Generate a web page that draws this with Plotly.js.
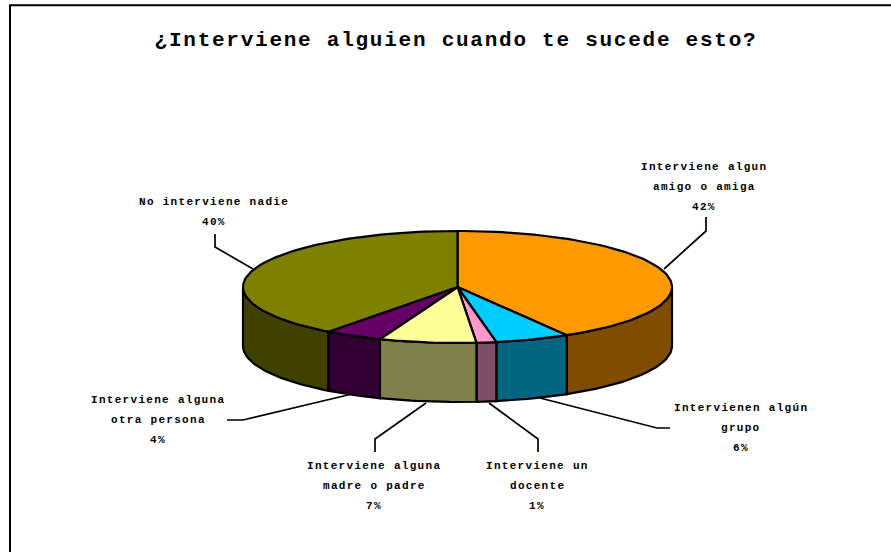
<!DOCTYPE html>
<html>
<head>
<meta charset="utf-8">
<script src="https://cdn.plot.ly/plotly-3.0.1.min.js"></script>
<style>
html,body{margin:0;padding:0;background:#fff}
.gtitle{letter-spacing:1.75px}
.annotation-text{letter-spacing:1.3px}
</style>
</head>
<body>
<div id="chart" style="width:891px;height:552px"></div>
<script>
const chartTitle = "¿Interviene alguien cuando te sucede esto?";
const categories = [
  "Interviene algun|amigo o amiga",
  "Intervienen algún|grupo",
  "Interviene un|docente",
  "Interviene alguna|madre o padre",
  "Interviene alguna|otra persona",
  "No interviene nadie"
];
const values = [41.5, 5.6, 1.49, 7.3, 4.4, 39.71];
const topColors = ["#FF9900", "#00CCFF", "#FF99CC", "#FFFF99", "#660066", "#808000"];
const sideColors = ["#804D00", "#006680", "#804D66", "#80804D", "#330033", "#404000"];

const CX = 457.5, CY = 287, RX = 214.5, RY = 56, DEPTH = 59;
const total = values.reduce((a, b) => a + b, 0);
const pt = (deg, dy) => {
  const t = deg * Math.PI / 180;
  return [CX + RX * Math.sin(t), CY - RY * Math.cos(t) + (dy || 0)];
};
const arc = (a, b, dy) => {
  const out = [];
  const n = Math.max(2, Math.ceil(Math.abs(b - a) / 1.5));
  for (let i = 0; i <= n; i++) out.push(pt(a + (b - a) * i / n, dy));
  return out;
};
const poly = (pts, fill) => ({
  type: "scatter", mode: "lines", fill: "toself", fillcolor: fill,
  x: pts.map(p => p[0]), y: pts.map(p => p[1]),
  line: {color: "#000", width: 2.2, shape: "linear"},
  hoverinfo: "skip", showlegend: false
});

const traces = [];
const tops = [];
let cum = 0;
values.forEach((v, i) => {
  const a = cum / total * 360, b = (cum + v) / total * 360;
  cum += v;
  const fa = Math.max(a, 90), fb = Math.min(b, 270);
  if (fb > fa) {
    const wall = arc(fa, fb, 0).concat(arc(fb, fa, DEPTH));
    wall.push(wall[0]);
    traces.push(poly(wall, sideColors[i]));
  }
  const top = [[CX, CY]].concat(arc(a, b, 0));
  top.push([CX, CY]);
  tops.push(poly(top, topColors[i]));
});
traces.push(...tops);

const labelLayout = [
  {x: 704, y: 167},
  {x: 741, y: 408},
  {x: 537, y: 466},
  {x: 374, y: 466},
  {x: 158, y: 400},
  {x: 214, y: 202}
];
const leaders = [
  [[664, 269], [706, 231], [706, 217]],
  [[540, 398], [657, 428], [670, 428]],
  [[489, 403], [538, 439], [538, 452]],
  [[426, 403], [375, 439], [375, 452]],
  [[352, 394], [243, 420], [227, 420]],
  [[253, 269], [215, 247], [215, 234]]
];
const annotations = [];
categories.forEach((c, i) => {
  const lines = c.split("|").concat([Math.round(values[i]) + "%"]);
  lines.forEach((t, k) => annotations.push({
    x: labelLayout[i].x, y: labelLayout[i].y + k * 20, text: t,
    showarrow: false, xanchor: "center", yanchor: "middle",
    font: {family: "'Liberation Mono', monospace", size: 11, color: "#000", weight: 700}
  }));
});
const shapes = leaders.map(l => ({
  type: "path", layer: "below",
  path: "M" + l.map(p => p.join(",")).join("L"),
  line: {color: "#000", width: 1.7}
}));
shapes.push({type: "path", layer: "below", path: "M10,552L10,5.3L891,5.3", line: {color: "#000", width: 2}});

const layout = {
  width: 891, height: 552, margin: {l: 0, r: 0, t: 0, b: 0},
  paper_bgcolor: "#fff", plot_bgcolor: "#fff", showlegend: false,
  title: {text: "<b>" + chartTitle + "</b>", x: 456 / 891, xanchor: "center", y: 1 - 39 / 552, yanchor: "middle",
          font: {family: "'Liberation Mono', monospace", size: 21, color: "#000"}},
  xaxis: {range: [0, 891], visible: false, fixedrange: true},
  yaxis: {range: [552, 0], visible: false, fixedrange: true},
  annotations, shapes
};
Plotly.newPlot("chart", traces, layout, {displayModeBar: false, staticPlot: true});
</script>
</body>
</html>
